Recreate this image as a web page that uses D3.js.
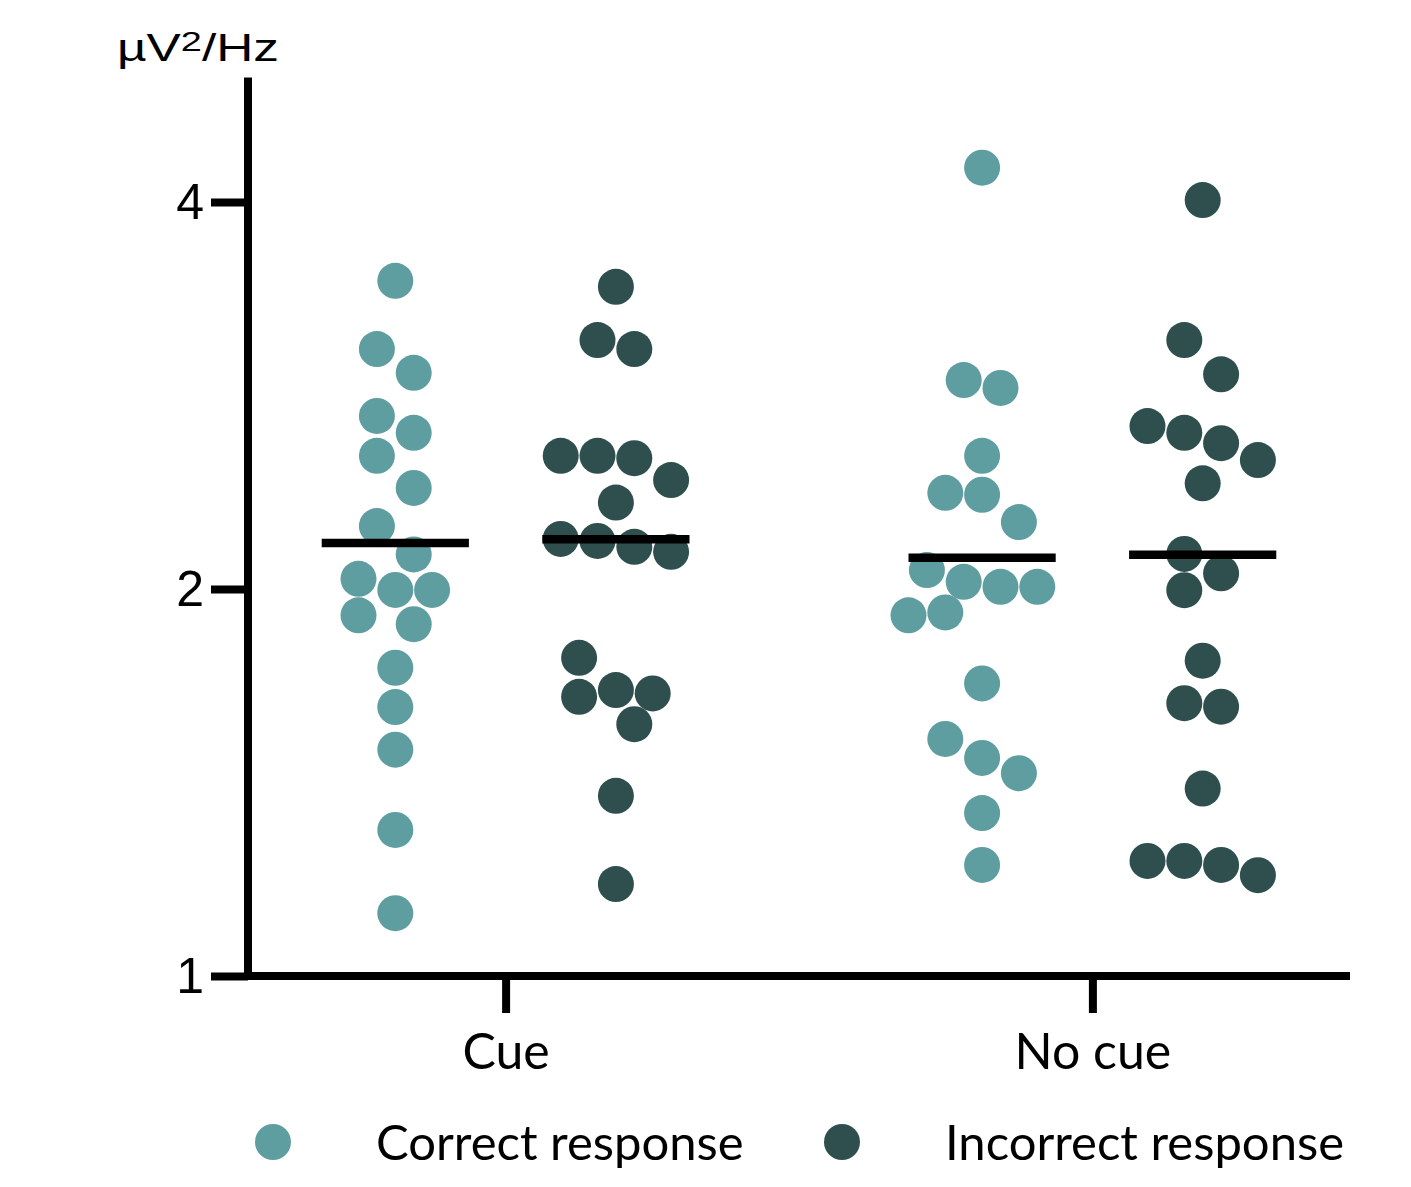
<!DOCTYPE html>
<html>
<head>
<meta charset="utf-8">
<script src="https://cdn.jsdelivr.net/npm/d3@7"></script>
<style>
  html, body { margin: 0; padding: 0; background: #ffffff; }
  svg { display: block; }
</style>
</head>
<body>
<script>
// Power (µV²/Hz) per trial group, plotted on a log2 axis with the group mean.
const categories = ["Cue", "No cue"];
const series = ["Correct response", "Incorrect response"];
const seriesColors = ["#5f9ea0", "#2f4f4f"];
const yTicks = [1, 2, 4];
const yLabel = ["µV", "2", "/Hz"];

const cueCorrect = [3.474, 3.074, 2.946, 2.727, 2.646, 2.539, 2.397, 2.239, 2.128, 2.037,
                    1.997, 1.997, 1.908, 1.878, 1.737, 1.619, 1.500, 1.299, 1.119];
const cueIncorrect = [3.437, 3.124, 3.074, 2.539, 2.528, 2.539, 2.431, 2.335, 2.138, 2.157,
                      2.180, 2.188, 1.768, 1.649, 1.570, 1.659, 1.669, 1.381, 1.179];
const noCueCorrect = [4.254, 2.867, 2.908, 2.539, 2.376, 2.368, 2.255, 2.069, 2.026, 2.008,
                      2.008, 1.918, 1.908, 1.689, 1.529, 1.478, 1.438, 1.339, 1.220];
const noCueIncorrect = [4.014, 3.124, 2.938, 2.678, 2.646, 2.597, 2.520, 2.417, 2.130, 2.057,
                        1.996, 1.759, 1.630, 1.620, 1.399, 1.198, 1.229, 1.220, 1.229];

const groups = [
  { category: "Cue", series: "Correct response", values: cueCorrect },
  { category: "Cue", series: "Incorrect response", values: cueIncorrect },
  { category: "No cue", series: "Correct response", values: noCueCorrect },
  { category: "No cue", series: "Incorrect response", values: noCueIncorrect }
];

const W = 1411, H = 1187;
const AXIS_W = 8;
const R = 18;            // dot radius
const STEP = 18.4;       // half-slot width for the scatter spread
const TICK = 37;

const svg = d3.select("body").append("svg")
  .attr("width", W).attr("height", H)
  .attr("viewBox", `0 0 ${W} ${H}`);
svg.append("rect").attr("width", W).attr("height", H).attr("fill", "#fff");

const y = d3.scaleLog().base(2).domain([1, 5]).range([976, 77.5]);
const x = d3.scalePoint().domain(categories).range([248, 1350]).padding(0.439);
const xs = d3.scalePoint().domain(series).range([-110.3, 110.3]);
const color = d3.scaleOrdinal().domain(series).range(seriesColors);

const x0 = x.range()[0];
const yBase = y(1);

// Scatter spread: points closer than one dot diameter form a row and are
// centred side by side; anything that still overlaps takes the nearest free slot.
function spread(values) {
  const pts = values.map(v => ({ v, py: y(v) })).sort((a, b) => a.py - b.py);
  const minD = 2 * R - 1;
  const rows = [];
  pts.forEach(p => {
    const row = rows[rows.length - 1];
    if (row && p.py - row[0].py < 2 * R) row.push(p); else rows.push([p]);
  });
  const cands = [0];
  for (let k = 1; k <= 6; k++) cands.push(-k, k);
  const placed = [];
  const free = (px, py) => placed.every(q => Math.hypot(q.dx - px, q.py - py) >= minD);
  rows.forEach(row => {
    const n = row.length;
    row.forEach((p, i) => {
      let px = (2 * i - (n - 1)) * STEP;
      if (!free(px, p.py)) {
        px = cands.map(k => k * STEP).find(c => free(c, p.py));
        if (px === undefined) px = 0;
      }
      p.dx = px;
      placed.push(p);
    });
  });
  return pts;
}

// Dots
groups.forEach(g => {
  const cx = x(g.category) + xs(g.series);
  svg.append("g").selectAll("circle")
    .data(spread(g.values))
    .join("circle")
    .attr("cx", d => cx + d.dx)
    .attr("cy", d => y(d.v))
    .attr("r", R)
    .attr("fill", color(g.series));
});

// Mean lines
groups.forEach(g => {
  const cx = x(g.category) + xs(g.series);
  const m = d3.mean(g.values);
  svg.append("line")
    .attr("x1", cx - 4 * STEP).attr("x2", cx + 4 * STEP)
    .attr("y1", y(m)).attr("y2", y(m))
    .attr("stroke", "#000").attr("stroke-width", 8.5);
});

// Y axis
const gy = svg.append("g").attr("transform", `translate(${x0},0)`)
  .call(d3.axisLeft(y).tickValues(yTicks).tickFormat(d3.format("d"))
    .tickSize(TICK).tickSizeOuter(0).tickPadding(7));
gy.select(".domain").remove();
gy.selectAll(".tick line").attr("stroke", "#000").attr("stroke-width", AXIS_W);
gy.selectAll(".tick text")
  .attr("font-family", "'Liberation Sans', Arial, sans-serif")
  .attr("font-size", 50).attr("fill", "#000");
svg.append("line")
  .attr("x1", x0).attr("x2", x0)
  .attr("y1", yBase + AXIS_W / 2).attr("y2", y.range()[1])
  .attr("stroke", "#000").attr("stroke-width", AXIS_W);

// X axis
const gx = svg.append("g").attr("transform", `translate(0,${yBase})`)
  .call(d3.axisBottom(x).tickSize(TICK).tickSizeOuter(0).tickPadding(20));
gx.select(".domain").remove();
gx.selectAll(".tick line").attr("stroke", "#000").attr("stroke-width", AXIS_W);
gx.selectAll(".tick text")
  .attr("font-family", "Lato, 'Open Sans', sans-serif")
  .attr("font-size", 50).attr("fill", "#000");
svg.append("line")
  .attr("x1", x0).attr("x2", x.range()[1])
  .attr("y1", yBase).attr("y2", yBase)
  .attr("stroke", "#000").attr("stroke-width", AXIS_W);

// Y axis unit label
const lab = svg.append("text")
  .attr("x", 117).attr("y", 61)
  .attr("font-family", "'Liberation Sans', Arial, sans-serif")
  .attr("font-size", 38).attr("fill", "#000")
  .attr("textLength", 162).attr("lengthAdjust", "spacingAndGlyphs");
lab.append("tspan").text(yLabel[0]);
lab.append("tspan").attr("font-size", 28).attr("dy", -10).text(yLabel[1]);
lab.append("tspan").attr("dy", 10).text(yLabel[2]);

// Legend
const legendX = [273, 842];
const leg = svg.append("g").selectAll("g").data(series).join("g")
  .attr("transform", (d, i) => `translate(${legendX[i]},1142)`);
leg.append("circle").attr("r", R).attr("fill", d => color(d));
leg.append("text")
  .attr("x", 103).attr("y", 18)
  .attr("font-family", "Lato, 'Open Sans', sans-serif")
  .attr("font-size", 49).attr("fill", "#000")
  .text(d => d);
</script>
</body>
</html>
